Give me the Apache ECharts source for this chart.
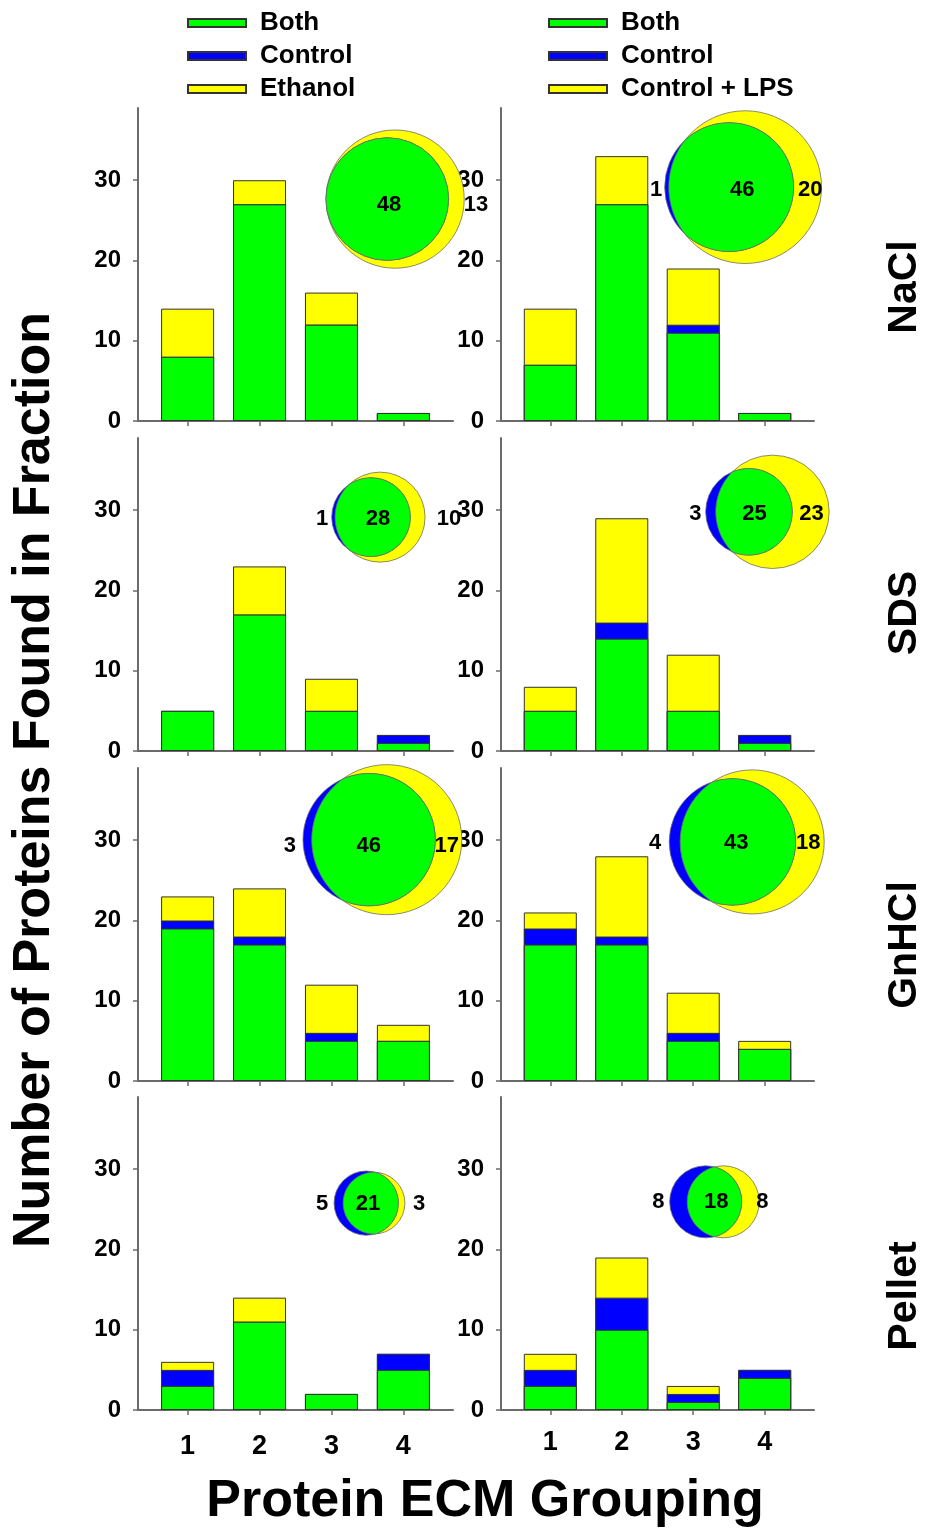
<!DOCTYPE html>
<html><head><meta charset="utf-8">
<script src="https://cdn.jsdelivr.net/npm/echarts@6/dist/echarts.min.js"></script>
<style>html,body{margin:0;padding:0;background:#fff}#chart{width:930px;height:1532px}</style>
</head><body><div id="chart"></div>
<script>
// ---------------- DATA ----------------
const categories = [1, 2, 3, 4];
const yTicks = [0, 10, 20, 30];
const fractions = ['NaCl', 'SDS', 'GnHCl', 'Pellet'];
const legendLeft = ['Both', 'Control', 'Ethanol'];
const legendRight = ['Both', 'Control', 'Control + LPS'];
const xTitle = 'Protein ECM Grouping';
const yTitle = 'Number of Proteins Found in Fraction';

// Left column: Control vs Ethanol (rows: NaCl, SDS, GnHCl, Pellet)
const bothEth    = [[8, 27, 12, 1], [5, 17, 5, 1], [19, 17, 5, 5], [3, 11, 2, 5]];
const controlEth = [[0, 0, 0, 0],   [0, 0, 0, 1],  [1, 1, 1, 0],   [2, 0, 0, 2]];
const ethanolOnly= [[6, 3, 4, 0],   [0, 6, 4, 0],  [3, 6, 6, 2],   [1, 3, 0, 0]];
// Right column: Control vs Control + LPS
const bothLPS    = [[7, 27, 11, 1], [5, 14, 5, 1], [17, 17, 5, 4], [3, 10, 1, 4]];
const controlLPS = [[0, 0, 1, 0],   [0, 2, 0, 1],  [2, 1, 1, 0],   [2, 4, 1, 1]];
const lpsOnly    = [[7, 6, 7, 0],   [3, 13, 7, 0], [2, 10, 5, 1],  [2, 5, 1, 0]];
// Venn counts [control only, both, treatment only]
const vennEth = [[0, 48, 13], [1, 28, 10], [3, 46, 17], [5, 21, 3]];
const vennLPS = [[1, 46, 20], [3, 25, 23], [4, 43, 18], [8, 18, 8]];

// ---------------- LAYOUT / STYLE ----------------
const FONT = "'Liberation Sans', Arial, Helvetica, sans-serif";
const GREEN = '#00ff00', BLUE = '#0000ff', YELLOW = '#ffff00';
const AX = '#6b6b6b';
const colLeft = [138, 501], colWidth = [315, 313];
const rowTop = [108, 438, 768, 1097], plotH = 313;
const rowLabelY = [287, 613, 945, 1296];
// Venn anchor (treatment-circle centre) in data units, per [row][col]
const vennAnchor = [[[3.885, 27.65], [3.727, 29.14]], [[3.676, 29.14], [4.109, 29.8]],
                    [[3.769, 30.07], [3.825, 29.79]], [[3.592, 25.78], [3.42, 25.94]]];
const vennScale = [[8.85, 9.4], [7.3, 8.18], [9.45, 9.22], [6.3, 7.06]];
const vennLabelDx = [[[0, -6, 81], [-89, -3, 65]], [[-58, -2, 69], [-77, -18, 39]],
                     [[-97, -18, 60], [-97, -16, 56]], [[-52, -6, 45], [-65, -7, 39]]];
const vennLabelDy = [[6, 3], [2, 2], [6, 1], [1, 0]];

function overlapArea(d, r1, r2) {
  if (d >= r1 + r2) return 0;
  if (d <= Math.abs(r2 - r1)) return Math.PI * Math.min(r1, r2) ** 2;
  const a1 = r1 * r1 * Math.acos((d * d + r1 * r1 - r2 * r2) / (2 * d * r1));
  const a2 = r2 * r2 * Math.acos((d * d + r2 * r2 - r1 * r1) / (2 * d * r2));
  const t = 0.5 * Math.sqrt((-d + r1 + r2) * (d + r1 - r2) * (d - r1 + r2) * (d + r1 + r2));
  return a1 + a2 - t;
}
function solveD(r1, r2, target) {
  let lo = Math.abs(r2 - r1), hi = r1 + r2;
  if (target >= Math.PI * Math.min(r1, r2) ** 2 - 1e-6) return lo;
  for (let i = 0; i < 80; i++) {
    const mid = (lo + hi) / 2;
    if (overlapArea(mid, r1, r2) > target) lo = mid; else hi = mid;
  }
  return (lo + hi) / 2;
}
function lensPoints(xc, xt, y, r1, r2) {
  const d = xt - xc;
  const a = (d * d + r1 * r1 - r2 * r2) / (2 * d);
  const h = Math.sqrt(Math.max(0, r1 * r1 - a * a));
  const pts = [];
  const N = 60;
  const alpha = Math.atan2(h, (xc + a) - xt);
  for (let i = 0; i <= N; i++) {
    const th = -alpha - (i / N) * (2 * Math.PI - 2 * alpha);
    pts.push([xt + r2 * Math.cos(th), y + r2 * Math.sin(th)]);
  }
  const beta = Math.atan2(h, a);
  for (let i = 0; i <= N; i++) {
    const th = beta - (i / N) * 2 * beta;
    pts.push([xc + r1 * Math.cos(th), y + r1 * Math.sin(th)]);
  }
  return pts;
}

function vennRender(r, c, counts) {
  return function (params, api) {
    const [cOnly, both, tOnly] = counts;
    const k = vennScale[r][c];
    const pt = api.coord([api.value(0), api.value(1)]);
    const r1 = k * Math.sqrt(cOnly + both), r2 = k * Math.sqrt(tOnly + both);
    const d = solveD(r1, r2, Math.PI * k * k * both);
    const xt = pt[0], xc = pt[0] - d, y = pt[1];
    const stroke = 'rgba(110,110,110,0.8)';
    const children = [
      { type: 'circle', shape: { cx: xt, cy: y, r: r2 }, style: { fill: YELLOW, stroke, lineWidth: 1 } },
      { type: 'circle', shape: { cx: xc, cy: y, r: r1 }, style: { fill: BLUE, stroke, lineWidth: 1 } }
    ];
    if (d <= Math.abs(r2 - r1) + 1e-6) {
      const small = r1 <= r2 ? { cx: xc, r: r1 } : { cx: xt, r: r2 };
      children.push({ type: 'circle', shape: { cx: small.cx, cy: y, r: small.r }, style: { fill: GREEN, stroke, lineWidth: 1 } });
    } else {
      children.push({ type: 'polygon', shape: { points: lensPoints(xc, xt, y, r1, r2) }, style: { fill: GREEN, stroke, lineWidth: 1 } });
    }
    const dx = vennLabelDx[r][c], dy = vennLabelDy[r][c];
    counts.forEach((v, i) => {
      if (v > 0) children.push({ type: 'text', x: xt + dx[i], y: y + dy,
        style: { text: String(v), fontSize: 22, fontWeight: 'bold', fontFamily: FONT, fill: '#000', align: 'center', verticalAlign: 'middle' } });
    });
    return { type: 'group', children };
  };
}

const grids = [], xAxes = [], yAxes = [], series = [];
for (let r = 0; r < 4; r++) {
  for (let c = 0; c < 2; c++) {
    const idx = grids.length;
    grids.push({ left: colLeft[c], top: rowTop[r], width: colWidth[c], height: plotH });
    xAxes.push({
      gridIndex: idx, type: 'value', min: 0.31, max: 4.69,
      axisLine: { show: true, onZero: false, lineStyle: { color: AX, width: 2 } },
      axisTick: { show: true, customValues: categories, length: 5, lineStyle: { color: AX, width: 1.5 } },
      axisLabel: { show: r === 3, customValues: categories, fontSize: 27, fontWeight: 'bold', color: '#000', fontFamily: FONT, margin: c === 0 ? 23 : 19 },
      splitLine: { show: false }
    });
    yAxes.push({
      gridIndex: idx, type: 'value', min: 0, max: 39,
      axisLine: { show: true, onZero: false, lineStyle: { color: AX, width: 2 } },
      axisTick: { show: true, customValues: yTicks, length: 5, lineStyle: { color: AX, width: 1.5 } },
      axisLabel: { customValues: yTicks, fontSize: 24, fontWeight: 'bold', color: '#000', fontFamily: FONT, margin: 17 },
      splitLine: { show: false }
    });
    const both = c === 0 ? bothEth[r] : bothLPS[r];
    const ctrl = c === 0 ? controlEth[r] : controlLPS[r];
    const trt = c === 0 ? ethanolOnly[r] : lpsOnly[r];
    const trtName = c === 0 ? 'Ethanol' : 'Control + LPS';
    const cum1 = both, cum2 = both.map((v, i) => v + ctrl[i]), cum3 = cum2.map((v, i) => v + trt[i]);
    const mk = (name, vals, color) => ({
      type: 'bar', name, xAxisIndex: idx, yAxisIndex: idx, barWidth: 53, barGap: '-100%',
      data: categories.map((x, i) => [x, vals[i]]),
      itemStyle: { color, borderColor: '#333', borderWidth: 1 }
    });
    series.push(mk(trtName, cum3, YELLOW));
    series.push(mk('Control', cum2, BLUE));
    series.push(mk('Both', cum1, GREEN));
    series.push({
      type: 'custom', xAxisIndex: idx, yAxisIndex: idx, clip: false, z: 5, silent: true,
      data: [vennAnchor[r][c]],
      renderItem: vennRender(r, c, c === 0 ? vennEth[r] : vennLPS[r])
    });
  }
}

function mkLegend(names, left) {
  return { data: names, orient: 'vertical', left, top: 10, padding: 0, icon: 'rect', itemWidth: 58, itemHeight: 8, itemGap: 7,
    selectedMode: false,
    textStyle: { fontSize: 26, fontWeight: 'bold', color: '#000', fontFamily: FONT, lineHeight: 24, padding: [0, 0, 0, 9] } };
}

const graphic = [
  { type: 'text', x: 35, y: 780, rotation: Math.PI / 2,
    style: { text: yTitle, fontSize: 52, fontWeight: 'bold', fontFamily: FONT, fill: '#000', align: 'center', verticalAlign: 'middle' } },
  { type: 'text', x: 485, y: 1502,
    style: { text: xTitle, fontSize: 52, fontWeight: 'bold', fontFamily: FONT, fill: '#000', align: 'center', verticalAlign: 'middle' } }
].concat(fractions.map((f, r) => ({ type: 'text', x: 905, y: rowLabelY[r], rotation: Math.PI / 2,
    style: { text: f, fontSize: 41, fontWeight: 'bold', fontFamily: FONT, fill: '#000', align: 'center', verticalAlign: 'middle' } })));

const chart = echarts.init(document.getElementById('chart'), null, { renderer: 'canvas' });
chart.setOption({
  animation: false,
  backgroundColor: '#fff',
  textStyle: { fontFamily: FONT },
  legend: [mkLegend(legendLeft, 187), mkLegend(legendRight, 548)],
  grid: grids, xAxis: xAxes, yAxis: yAxes, series, graphic
});
</script></body></html>
